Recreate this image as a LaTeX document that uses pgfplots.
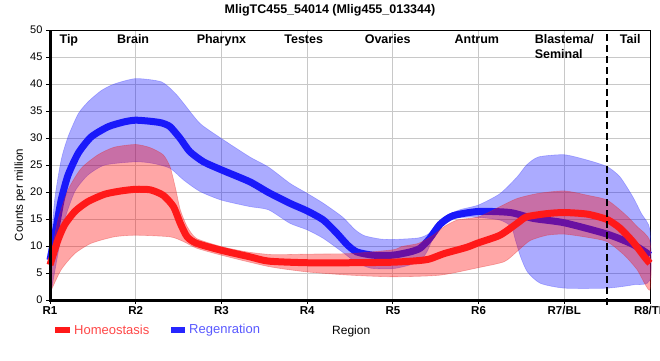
\documentclass[border=0pt]{standalone}
\usepackage{pgfplots}
\pgfplotsset{compat=1.18}
\usepackage{fontspec}
\setmainfont{Liberation Sans}
\definecolor{hred}{RGB}{255,25,25}
\definecolor{rblue}{RGB}{25,25,250}
\definecolor{gridgray}{RGB}{200,200,200}
\definecolor{bandblue}{RGB}{60,60,255}
\definecolor{bandred}{RGB}{225,40,40}
\begin{document}
\begin{tikzpicture}
\useasboundingbox (0pt,0pt) rectangle (660pt,360pt);
\begin{axis}[
  at={(50pt,60pt)}, anchor=south west, scale only axis,
  width=600pt, height=270pt,
  xmin=1, xmax=8, ymin=0, ymax=50,
  xtick={1,2,3,4,5,6,7,8},
  xticklabels={R1,R2,R3,R4,R5,R6,R7/BL,R8/TL},
  ytick={0,5,...,50},
  grid=major, grid style={gridgray, line width=0.8pt},
  axis line style={black, line width=0.9pt},
  tick align=outside, xtick pos=bottom, ytick pos=left,
  major tick length=4pt, tick style={black, line width=0.9pt},
  xticklabel style={font=\fontsize{11.5}{13}\selectfont\bfseries, yshift=1pt},
  yticklabel style={font=\fontsize{11}{13}\selectfont},
  /pgf/number format/assume math mode=true,
  clip=false,
]
% ---------- Regeneration band (upper forward, lower reversed) ----------
\addplot[fill=blue, fill opacity=0.33, draw=bandblue, draw opacity=0.35, line width=0.6pt, smooth, tension=0.4] coordinates {
(1,8) (1.054,18.5) (1.13,25.9) (1.21,30.2) (1.33,34.5) (1.45,36.8) (1.6,38.8) (1.75,40) (2.0,41) (2.3,40.4) (2.46,38.3) (2.56,36.4) (2.75,32.7) (3.0,29.9) (3.33,26.5) (3.55,24.6) (3.8,21.6) (4.0,19.75) (4.19,17.9) (4.41,15.4) (4.56,13) (4.67,11.9) (4.85,11.3) (5.0,11.2) (5.3,11.5) (5.42,12.3) (5.5,13.8) (5.6,15.4) (5.78,16.7) (6.0,17.6) (6.25,19.7) (6.45,22.8) (6.56,25.0) (6.7,26.5) (7.0,26.9) (7.27,25.9) (7.5,24.7) (7.65,22.8) (7.8,19.1) (7.9,16.0) (8.0,13.0)
(8.0,3.7) (7.8,2.8) (7.5,2.2) (7.0,2.2) (6.72,3.1) (6.57,5.2) (6.49,8.0) (6.43,11.1) (6.38,13.6) (6.25,14.8) (6.0,15.3) (5.8,15.3) (5.65,14.8) (5.55,13.5) (5.47,11.5) (5.4,9.0) (5.33,7.5) (5.2,6.5) (5.0,5.8) (4.74,5.9) (4.56,7.1) (4.41,8.9) (4.19,11.4) (4.0,13) (3.8,14.2) (3.55,16.7) (3.33,17.3) (3.0,18.5) (2.75,20.1) (2.56,22.2) (2.4,24.4) (2.2,25.3) (2.0,25.6) (1.64,25) (1.44,23.1) (1.29,20.1) (1.17,14.8) (1.093,8.6) (1,0.3)
} -- cycle;
% ---------- Regeneration line ----------
\addplot[rblue, line width=7pt, smooth, tension=0.4] coordinates {
(1,7.4) (1.074,13.6) (1.13,18.5) (1.21,23.1) (1.33,27.2) (1.48,30.2) (1.68,32.1) (1.87,33.0) (2.0,33.3) (2.17,33.1) (2.3,32.8) (2.4,32.1) (2.52,29.9) (2.63,27.5) (2.79,25.6) (3.0,24.1) (3.33,21.9) (3.55,19.9) (3.8,17.9) (4.0,16.5) (4.19,14.8) (4.35,12.3) (4.47,10.2) (4.58,8.9) (4.77,8.3) (5.0,8.3) (5.2,8.9) (5.32,9.6) (5.43,11.4) (5.55,14.0) (5.7,15.6) (6.0,16.4) (6.37,16.2) (6.64,15.1) (7.0,14.3) (7.5,12.2) (7.8,10.3) (8.0,8.3)
};
% ---------- Homeostasis band ----------
\addplot[fill=red, fill opacity=0.35, draw=bandred, draw opacity=0.35, line width=0.6pt, smooth, tension=0.4] coordinates {
(1,7.5) (1.093,14.8) (1.21,20.4) (1.365,24.4) (1.56,26.9) (1.75,28.3) (2.0,28.8) (2.17,28.2) (2.32,26.9) (2.4,24.7) (2.46,21) (2.52,16.7) (2.6,13.6) (2.71,11.4) (3.0,9.9) (3.3,8.9) (3.6,8.4) (4.0,8.5) (4.5,8.6) (5.0,9.3) (5.1,9.9) (5.3,10.5) (5.47,12.0) (5.6,13.6) (5.75,14.8) (6.0,15.4) (6.25,17.3) (6.45,18.8) (6.7,19.75) (7.0,20.2) (7.27,19.4) (7.5,18.5) (7.7,16) (7.85,13.6) (8.0,10.8)
(8.0,1.85) (7.85,5.6) (7.7,8.3) (7.5,10.8) (7.27,11.6) (7.0,12.2) (6.8,12.0) (6.6,11.0) (6.45,9.0) (6.3,7.1) (6.0,6.0) (5.55,4.6) (5.0,4.3) (4.5,4.6) (4.0,5.2) (3.55,6.2) (3.0,8.3) (2.71,9.6) (2.56,10.8) (2.4,11.7) (2.0,12.0) (1.75,11.7) (1.48,10.5) (1.29,8.6) (1.13,5.6) (1,1.3)
} -- cycle;
% ---------- Homeostasis line ----------
\addplot[hred, line width=7pt, smooth, tension=0.4] coordinates {
(1,6.5) (1.093,11.1) (1.17,13.9) (1.29,16.4) (1.44,18.2) (1.64,19.6) (1.83,20.2) (2.0,20.5) (2.17,20.4) (2.32,19.4) (2.44,17.3) (2.52,14.2) (2.6,11.7) (2.71,10.5) (3.0,9.2) (3.33,8.0) (3.55,7.2) (4.0,6.9) (4.5,6.9) (5.0,7.0) (5.3,7.3) (5.43,7.6) (5.6,8.6) (5.86,9.75) (6.0,10.6) (6.25,12.0) (6.45,14.2) (6.56,15.4) (6.8,16.0) (7.0,16.2) (7.27,15.9) (7.5,14.9) (7.65,13.3) (7.8,10.8) (7.95,7.7) (8.0,6.8)
};
% ---------- dashed separator and axis lines ----------
\draw[black, line width=2.6pt, dash pattern=on 7pt off 4pt] (axis cs:7.5,-0.9) -- (axis cs:7.5,50);
\draw[black, line width=3pt] (axis cs:1,50) -- (axis cs:1,0) -- (axis cs:8,0);
% ---------- region labels ----------
\node[font=\fontsize{12.5}{15}\selectfont\bfseries, anchor=north, inner sep=0pt] at (axis cs:1.22,49.2) {Tip};
\node[font=\fontsize{12.5}{15}\selectfont\bfseries, anchor=north, inner sep=0pt] at (axis cs:1.97,49.2) {Brain};
\node[font=\fontsize{12.5}{15}\selectfont\bfseries, anchor=north, inner sep=0pt] at (axis cs:3.0,49.2) {Pharynx};
\node[font=\fontsize{12.5}{15}\selectfont\bfseries, anchor=north, inner sep=0pt] at (axis cs:3.96,49.2) {Testes};
\node[font=\fontsize{12.5}{15}\selectfont\bfseries, anchor=north, inner sep=0pt] at (axis cs:4.94,49.2) {Ovaries};
\node[font=\fontsize{12.5}{15}\selectfont\bfseries, anchor=north, inner sep=0pt] at (axis cs:5.98,49.2) {Antrum};
\node[font=\fontsize{12.5}{15}\selectfont\bfseries, anchor=north, inner sep=0pt, align=left] at (axis cs:7.0,49.2) {Blastema/\\Seminal};
\node[font=\fontsize{12.5}{15}\selectfont\bfseries, anchor=north, inner sep=0pt] at (axis cs:7.77,49.2) {Tail};
\end{axis}
% title
\node[font=\fontsize{12.5}{15}\selectfont\bfseries] at (330pt,350pt) {MligTC455\_54014 (Mlig455\_013344)};
% y label
\node[rotate=90, font=\fontsize{11.5}{14}\selectfont] at (20pt,165pt) {Counts per million};
% legend
\fill[hred] (55pt,27pt) rectangle (70pt,33.5pt);
\node[anchor=west, inner sep=0pt, text=hred!80!white, font=\fontsize{13}{15}\selectfont] at (74pt,30pt) {Homeostasis};
\fill[blue!85!white] (171pt,27pt) rectangle (185pt,33.5pt);
\node[anchor=west, inner sep=0pt, text=blue!65!white, font=\fontsize{13}{15}\selectfont] at (189pt,30pt) {Regenration};
\node[anchor=west, inner sep=0pt, font=\fontsize{12}{14}\selectfont] at (332pt,29pt) {Region};
\end{tikzpicture}
\end{document}
